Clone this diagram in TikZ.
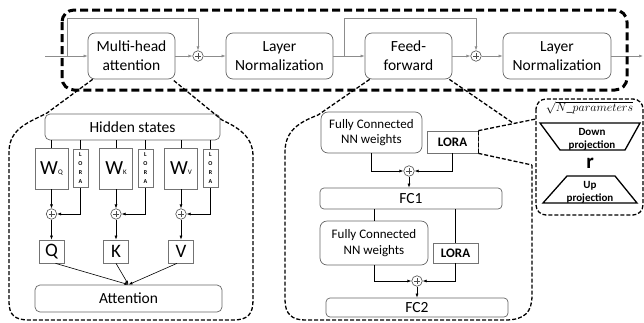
\documentclass[tikz,border=0pt]{standalone}
\usepackage{fontspec}
\setmainfont{Carlito}
\usetikzlibrary{arrows.meta,calc}
\begin{document}
\begin{tikzpicture}[x=1pt,y=-1pt,
  box/.style={draw=black!60, line width=0.7pt, rounded corners=7pt, align=center, inner sep=0pt,
              font=\fontsize{15.5}{19}\selectfont},
  sqbox/.style={draw=black!55, line width=0.7pt, inner sep=0pt, align=center},
  plusnode/.style={circle, draw=black!70, line width=0.6pt, minimum size=10.5pt, inner sep=0pt,
    path picture={\draw[line width=0.6pt]
      ([xshift=-3pt]path picture bounding box.center) -- ([xshift=3pt]path picture bounding box.center)
      ([yshift=-3pt]path picture bounding box.center) -- ([yshift=3pt]path picture bounding box.center);}},
  tip/.style={-{Latex[length=4pt,width=3pt]}},
  flow/.style={draw=black!45, line width=0.6pt},
  link/.style={draw=black, line width=0.6pt},
  loratall/.style={sqbox, minimum width=15pt, minimum height=38pt, font=\bfseries\fontsize{6}{9}\selectfont},
  wbox/.style={sqbox, minimum width=33pt, minimum height=41pt},
  letterbox/.style={sqbox, minimum width=25pt, minimum height=23pt, font=\fontsize{19}{19}\selectfont},
  lorabox/.style={sqbox, font=\bfseries\fontsize{13}{13}\selectfont},
  fcbox/.style={box, font=\fontsize{13}{15.5}\selectfont},
  zoomline/.style={draw=black, line width=1.3pt, dash pattern=on 4pt off 2pt},
  outer/.style={draw=black, line width=3pt, dash pattern=on 8pt off 4pt, rounded corners=12pt},
  trap/.style={draw=black, line width=1.3pt},
  projtext/.style={font=\bfseries\fontsize{11}{13}\selectfont, align=center, inner sep=0pt},
]
\useasboundingbox (0,0) rectangle (644,322);

% ---------- encoder block ----------
\node[box, minimum width=87pt, minimum height=46pt] (mha) at (131.5,56) {Multi-head\\attention};
\node[plusnode] (p1) at (198,56) {};
\node[box, minimum width=107pt, minimum height=46pt] (ln1) at (279.5,56) {Layer\\Normalization};
\node[box, minimum width=87pt, minimum height=46pt] (ff) at (408.5,56) {Feed-\\forward};
\node[plusnode] (p2) at (476,56) {};
\node[box, minimum width=108pt, minimum height=46pt] (ln2) at (557,56) {Layer\\Normalization};
\coordinate (in) at (45,56);
\coordinate (out) at (643,56);
\coordinate (s1) at (67,56);
\coordinate (s2) at (344,56);

\draw[flow,tip] (in) -- (mha);
\draw[flow,tip] (s1) -- (67,18) -| (p1);
\draw[flow,tip] (mha) -- (p1);
\draw[flow,tip] (p1) -- (ln1);
\draw[flow,tip] (ln1) -- (ff);
\draw[flow,tip] (s2) -- (344,18) -| (p2);
\draw[flow,tip] (ff) -- (p2);
\draw[flow,tip] (p2) -- (ln2);
\draw[flow,tip] (ln2) -- (out);

\draw[outer] (62,10) rectangle (627,90);

% ---------- attention detail ----------
\node[box, minimum width=175pt, minimum height=26pt, rounded corners=5pt] (hs) at (132.5,127) {Hidden states};

\node[wbox] (wq) at (51.5,168.5) {{\fontsize{20}{20}\selectfont W}{\fontsize{7}{7}\selectfont Q}};
\node[loratall] (lq) at (80.5,168.5) {L\\O\\R\\A};
\node[wbox] (wk) at (116,168.5) {{\fontsize{20}{20}\selectfont W}{\fontsize{7}{7}\selectfont K}};
\node[loratall] (lk) at (145.5,168.5) {L\\O\\R\\A};
\node[wbox] (wv) at (181,168.5) {{\fontsize{20}{20}\selectfont W}{\fontsize{7}{7}\selectfont V}};
\node[loratall] (lv) at (210.5,168.5) {L\\O\\R\\A};

\node[plusnode] (pq) at (51.5,214) {};
\node[plusnode] (pk) at (116,214) {};
\node[plusnode] (pv) at (181,214) {};

\node[letterbox] (q) at (51.5,251.5) {Q};
\node[letterbox] (k) at (116,251.5) {K};
\node[letterbox] (v) at (181,251.5) {V};

\node[box, minimum width=187pt, minimum height=27pt, rounded corners=5pt] (att) at (128.5,298.5) {Attention};

\foreach \w/\l/\p/\o in {wq/lq/pq/q, wk/lk/pk/k, wv/lv/pv/v}{
  \draw[link] (hs.south -| \w) -- (\w);
  \draw[link] (hs.south -| \l) -- (\l);
  \draw[link,tip] (\w) -- (\p);
  \draw[link,tip] (\l.south) |- (\p);
  \draw[link,tip] (\p) -- (\o);
}
\draw[link,tip] ([xshift=4pt]q.south) -- (att.north);
\draw[link,tip] (k.south) -- (att.north);
\draw[link,tip] ([xshift=-4pt]v.south) -- (att.north);

\draw[zoomline] ($(mha.south west)+(5,0)$) -- (47,113) .. controls (30,122) and (9,128) .. (9,152)
  -- (9,302) .. controls (9,315) and (15,320) .. (29,320) -- (233,320)
  .. controls (248,320) and (253,314) .. (253,300) -- (253,156)
  .. controls (253,136) and (237,127) .. (222,120) -- ($(mha.south east)+(-3,0)$);

% ---------- feed-forward detail ----------
\node[fcbox, minimum width=101pt, minimum height=41pt] (fc1w) at (371.5,132.5) {Fully Connected\\NN weights};
\node[lorabox, minimum width=51pt, minimum height=22pt] (lora1) at (452.5,142) {LORA};
\node[plusnode] (pf1) at (409,171) {};
\node[box, minimum width=182pt, minimum height=21pt, rounded corners=4pt] (fc1) at (411,198.5) {FC1};
\node[fcbox, minimum width=108pt, minimum height=44pt] (fc2w) at (374,243) {Fully Connected\\NN weights};
\node[lorabox, minimum width=45pt, minimum height=20pt] (lora2) at (455.5,253) {LORA};
\node[plusnode] (pf2) at (417,281) {};
\node[box, minimum width=182pt, minimum height=19pt, rounded corners=4pt] (fc2) at (417,307.5) {FC2};

\draw[link,tip] (fc1w.south) |- (pf1);
\draw[link,tip] (lora1.south) |- (pf1);
\draw[link,tip] (pf1) -- (pf1 |- fc1.north);
\draw[link] (fc1.south -| fc2w) -- (fc2w);
\draw[link] (fc1.south -| lora2) -- (lora2);
\draw[link,tip] (fc2w.south) |- (pf2);
\draw[link,tip] (lora2.south) |- (pf2);
\draw[link,tip] (pf2) -- (pf2 |- fc2.north);

\draw[zoomline] ($(ff.south west)+(5,0)$) -- (318,115) .. controls (300,122) and (285,130) .. (285,152)
  -- (285,300) .. controls (285,314) and (292,320) .. (305,320) -- (505,320)
  .. controls (525,320) and (532,312) .. (532,295) -- (532,165);
\draw[zoomline] ($(ff.south east)+(-3,0)$) -- (513,123);

% ---------- LoRA detail ----------
\draw[zoomline, rounded corners=10pt] (536,99) rectangle (643,215);
\node[inner sep=0pt, font=\fontsize{12.5}{12.5}\selectfont] (nparam) at (589.5,108) {$\sqrt{N\_parameters}$};
\draw[trap] (540,123) -- (640,123) -- (625,150) -- (560,150) -- cycle;
\node[projtext] (down) at (592,139) {Down\\projection};
\node[inner sep=0pt, font=\bfseries\fontsize{21}{21}\selectfont] (rank) at (590,163) {r};
\draw[trap] (567,176) -- (615,176) -- (637,203) -- (543,203) -- cycle;
\node[projtext] (up) at (590,192) {Up\\projection};

\draw[zoomline] (lora1.north east) -- (536,119);
\draw[zoomline] (lora1.south east) -- (532,165);
\draw[zoomline] (lora1.north east) -- (lora1.south east);
\end{tikzpicture}
\end{document}
